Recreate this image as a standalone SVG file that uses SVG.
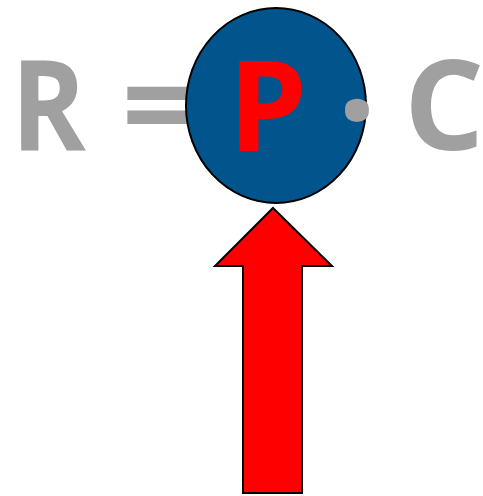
<svg xmlns="http://www.w3.org/2000/svg" width="483" height="496" viewBox="0 0 483 496">
<style>
.g{fill:#a0a0a0;font-family:"Open Sans","Liberation Sans",sans-serif;font-weight:bold;font-size:126px}
.p{fill:#ff0000;font-family:"Open Sans","Liberation Sans",sans-serif;font-weight:bold;font-size:126px}
</style>
<rect width="483" height="496" fill="#ffffff"/>
<g id="formula-left">
<text class="g" x="0" y="150" transform="matrix(0.9,0,0,1,11,0)">R</text>
<text class="g" x="122" y="150">=</text>
</g>
<g id="node-p">
<ellipse cx="276" cy="105.5" rx="90" ry="97.5" fill="#02548c" stroke="#000" stroke-width="2"/>
<text class="p" x="228" y="151">P</text>
</g>
<g id="formula-right">
<text class="g" x="337" y="160" style="font-size:140px">·</text>
<text class="g" x="404" y="150">C</text>
</g>
<g id="connectors">
<polygon points="273,208 332,266 302,266 302,493 243,493 243,266 215,266" fill="#ff0000" stroke="#000" stroke-width="2" stroke-linejoin="miter"/>
</g>
</svg>
